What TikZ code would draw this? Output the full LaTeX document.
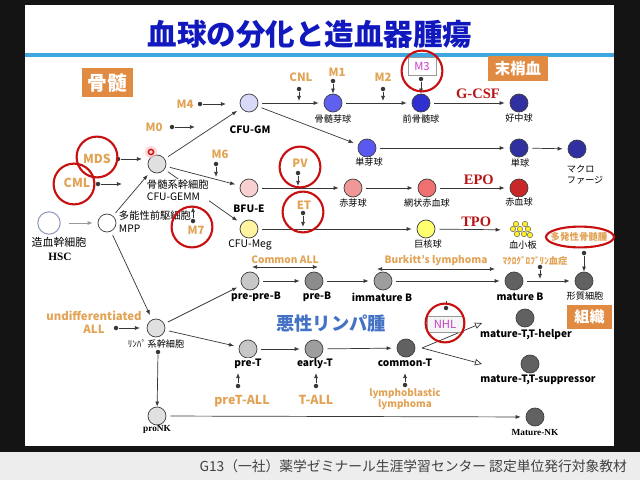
\documentclass[tikz,border=0pt]{standalone}
\usepackage{fontspec}
\setmainfont{Noto Sans CJK JP}
\newfontfamily\timesfont{Liberation Serif}
\usetikzlibrary{arrows.meta, shapes.geometric}
\definecolor{titleblue}{RGB}{16,24,190}
\definecolor{rulecol}{RGB}{64,166,222}
\definecolor{mutor}{RGB}{226,163,85}
\definecolor{areaor}{RGB}{224,138,66}
\definecolor{ringred}{RGB}{200,16,16}
\definecolor{hormred}{RGB}{185,20,20}
\definecolor{boxmag}{RGB}{200,60,200}
\definecolor{lymblue}{RGB}{68,114,196}
\definecolor{linecol}{RGB}{55,55,55}
\definecolor{hscline}{RGB}{140,150,190}
\definecolor{gmcol}{RGB}{216,216,248}
\definecolor{bmbcol}{RGB}{96,96,240}
\definecolor{pmccol}{RGB}{48,48,208}
\definecolor{mblcol}{RGB}{88,88,240}
\definecolor{navycol}{RGB}{48,48,160}
\definecolor{bfucol}{RGB}{248,208,208}
\definecolor{eblcol}{RGB}{240,152,152}
\definecolor{retcol}{RGB}{240,112,112}
\definecolor{rbccol}{RGB}{200,40,40}
\definecolor{megcol}{RGB}{255,245,160}
\definecolor{mgkcol}{RGB}{255,255,112}
\definecolor{pltcol}{RGB}{255,240,40}
\tikzset{
  cellC/.style  = {circle, draw=black!75, line width=0.5pt, minimum size=0.45cm, inner sep=0pt},
  labJ/.style   = {fill=white, inner sep=0.5pt, font=\fontsize{6.5}{7.6}\selectfont},
  labE/.style   = {fill=white, inner sep=0.5pt, font=\fontsize{7.2}{8.4}\selectfont\bfseries},
  labS/.style   = {inner sep=0.5pt, font=\timesfont\fontsize{6.6}{7.6}\selectfont\bfseries},
  mutT/.style   = {text=mutor, inner sep=0.5pt, font=\fontsize{8.1}{9.4}\selectfont\bfseries},
  hormT/.style  = {text=hormred, inner sep=0.5pt, font=\timesfont\fontsize{10.3}{12}\selectfont\bfseries},
  ringR/.style  = {circle, draw=ringred, line width=1.5pt, minimum size=1.02cm, inner sep=0pt},
  areaB/.style  = {fill=areaor, text=white, inner sep=0pt},
  tagbox/.style = {draw=black!40, inner sep=0pt, text=boxmag, font=\fontsize{8}{9}\selectfont},
  mdot/.style   = {circle, fill=linecol, minimum size=3.2pt, inner sep=0pt},
  arrow/.style  = {draw=linecol, line width=0.5pt, -{Latex[length=3.6pt,width=2.8pt]},
                   shorten <=2.8pt, shorten >=3.5pt},
  parrow/.style = {draw=linecol, line width=0.5pt, -{Latex[length=3.6pt,width=2.8pt]}},
  darrow/.style = {draw=linecol, line width=0.5pt,
                   {Latex[length=3.6pt,width=2.8pt]}-{Latex[length=3.6pt,width=2.8pt]}},
  oarrow/.style = {draw=linecol, line width=0.5pt, -{Triangle[open,length=5pt,width=4.5pt]}},
}
\begin{document}
\begin{tikzpicture}[x=0.025cm, y=-0.025cm]
  \useasboundingbox (0,0) rectangle (640,480);

  %% Slide frame
  \fill[black!92] (0,0) rectangle (640,480);
  \fill[white] (25,5) rectangle (614,446);
  \fill[black!7] (0,452) rectangle (640,480);
  \node[text=titleblue, font=\fontsize{21}{24}\selectfont\bfseries] (title) at (310,34) {血球の分化と造血器腫瘍};
  \draw[rulecol, line width=3pt] (25,55) -- (614,55);
  \node[anchor=east, text=black!75, font=\fontsize{9.8}{12}\selectfont] (footer) at (632,466)
        {G13（一社）薬学ゼミナール生涯学習センター 認定単位発行対象教材};

  %% Area tags
  \node[areaB, minimum width=1.275cm, minimum height=0.725cm, font=\fontsize{14}{16}\selectfont\bfseries] (bm)   at (107.5,82.5) {骨髄};
  \node[areaB, minimum width=1.5cm,   minimum height=0.625cm, font=\fontsize{11}{13}\selectfont\bfseries] (pb)   at (518,68.5)   {末梢血};
  \node[areaB, minimum width=1.125cm, minimum height=0.6cm,   font=\fontsize{10.7}{12}\selectfont\bfseries] (tis) at (589.5,317)  {組織};
  \node[text=lymblue, font=\fontsize{13}{15}\selectfont\bfseries] (mlym) at (331,324) {悪性リンパ腫};

  %% Cells
  \node[cellC, draw=hscline, line width=0.7pt, minimum size=0.56cm, fill=white] (hsc) at (49,223) {};
  \node[cellC, fill=white]    (mpp)    at (107,223) {};
  \node[cellC, fill=black!12] (gemm)   at (157,164) {};
  \node[cellC, fill=gmcol]    (gm)     at (249,103) {};
  \node[cellC, fill=bmbcol]   (bmb)    at (333,103) {};
  \node[cellC, fill=pmccol]   (pmc)    at (421,103) {};
  \node[cellC, fill=navycol]  (neu)    at (519,103) {};
  \node[cellC, fill=mblcol]   (mbl)    at (367,148) {};
  \node[cellC, fill=navycol]  (mono)   at (519,148) {};
  \node[cellC, fill=navycol]  (mac)    at (577,149) {};
  \node[cellC, fill=bfucol]   (bfue)   at (249,188) {};
  \node[cellC, fill=eblcol]   (ebl)    at (353,188) {};
  \node[cellC, fill=retcol]   (ret)    at (427,188) {};
  \node[cellC, fill=rbccol]   (rbc)    at (519,188) {};
  \node[cellC, fill=megcol]   (meg)    at (249,229) {};
  \node[cellC, fill=mgkcol]   (mgk)    at (426,229) {};
  \node[minimum size=0.8cm, inner sep=0pt] (plt) at (522,230) {};
  \foreach \dx/\dy in {-6/-6, 3/-6, -9/-1, -2/-1, 6/-1, -5/4, 2/4, 8/5}
    \draw[black!70, fill=pltcol, line width=0.3pt] ([shift={(\dx,\dy)}]plt.center) circle (0.068cm);
  \node[cellC, fill=black!12] (lsc)    at (156,328) {};
  \node[cellC, fill=black!22] (ppb)    at (250,281) {};
  \node[cellC, fill=black!45] (preb)   at (314,281) {};
  \node[cellC, fill=black!38] (immb)   at (383,281) {};
  \node[cellC, fill=black!62] (matb)   at (514,281) {};
  \node[cellC, fill=black!62] (pc)     at (584,281) {};
  \node[cellC, fill=black!22] (pret)   at (248,349) {};
  \node[cellC, fill=black!38] (earlyt) at (314,349) {};
  \node[cellC, fill=black!62] (commt)  at (406,348) {};
  \node[cellC, fill=black!62] (th)     at (525,318) {};
  \node[cellC, fill=black!62] (ts)     at (530,364) {};
  \node[cellC, fill=black!12] (pronk)  at (157,416) {};
  \node[cellC, fill=black!62] (mnk)    at (535,417) {};

  %% Lineage arrows
  \draw[arrow, draw=black!40, shorten <=6pt] (hsc) -- (mpp);
  \draw[arrow] (mpp)  -- (gemm);
  \draw[arrow] (mpp)  -- (lsc);
  \draw[arrow] (gemm) -- (gm);
  \draw[arrow] (gemm) -- (bfue);
  \draw[arrow] (gemm) -- (meg);
  \draw[arrow] (gm)   -- (bmb);
  \draw[arrow] (bmb)  -- (pmc);
  \draw[arrow] (pmc)  -- node[hormT, above=2.5pt, pos=0.6] (gcsf) {G-CSF} (neu);
  \draw[arrow] (gm)   -- (mbl);
  \draw[arrow] (mbl)  -- (mono);
  \draw[arrow] (mono) -- (mac);
  \draw[arrow] (bfue) -- (ebl);
  \draw[arrow] (ebl)  -- (ret);
  \draw[arrow] (ret)  -- node[hormT, above=1.5pt, pos=0.58] (epo) {EPO} (rbc);
  \draw[arrow] (meg)  -- (mgk);
  \draw[arrow] (mgk)  -- node[hormT, above=1.5pt, pos=0.58] (tpo) {TPO} (plt);
  \draw[arrow] (lsc)  -- (ppb);
  \draw[arrow] (lsc)  -- (pret);
  \draw[arrow] (ppb)  -- (preb);
  \draw[arrow] (preb) -- (immb);
  \draw[arrow] (immb) -- (matb);
  \draw[arrow] (matb) -- (pc);
  \draw[arrow] (pret) -- (earlyt);
  \draw[arrow] (earlyt) -- (commt);
  \draw[arrow] (pronk)  -- (mnk);
  \coordinate (ctfork) at (422,348);
  \coordinate (thend)  at (482,323);
  \coordinate (tsend)  at (482,364);
  \draw[oarrow] (ctfork) -- (thend);
  \draw[oarrow] (ctfork) -- (tsend);
  \coordinate (caL) at (252,267);
  \coordinate (caR) at (318,267);
  \draw[darrow] (caL) -- node[mutT, above=1.5pt, font=\fontsize{7.2}{8.4}\selectfont\bfseries] (cmall) {Common ALL} (caR);
  \coordinate (bkL) at (377,269);
  \coordinate (bkR) at (495,269);
  \draw[darrow] (bkL) -- node[mutT, above=1.5pt, font=\fontsize{7.2}{8.4}\selectfont\bfseries] (burk) {Burkitt’s lymphoma} (bkR);

  %% Cell labels
  \node[labJ, font=\fontsize{7.8}{9}\selectfont] (hscl) at (59,242) {造血幹細胞};
  \node[labS, font=\timesfont\fontsize{8}{9}\selectfont\bfseries] (hscn) at (60,257) {HSC};
  \node[labJ, anchor=west, align=left, font=\fontsize{7.3}{9.2}\selectfont] (mppl) at (118,222) {多能性前駆細胞\\MPP};
  \node[labJ, anchor=west, align=left, font=\fontsize{7.3}{8.6}\selectfont] (gemml) at (146,190) {骨髄系幹細胞\\CFU-GEMM};
  \node[labE] (gml)   at (250,130) {CFU-GM};
  \node[labJ] (bmbl)  at (333,119) {骨髄芽球};
  \node[labJ] (pmcl)  at (421,119) {前骨髄球};
  \node[labJ] (neul)  at (519,118) {好中球};
  \node[labJ] (mbll)  at (369,162) {単芽球};
  \node[labJ] (monol) at (520,163) {単球};
  \node[labJ, anchor=west, align=left] (macl) at (566,175) {マクロ\\ファージ};
  \node[labE] (bfuel) at (249,209) {BFU-E};
  \node[labJ] (ebll)  at (353,203) {赤芽球};
  \node[labJ] (retl)  at (427,203) {網状赤血球};
  \node[labJ] (rbcl)  at (519,202) {赤血球};
  \node[labJ, font=\fontsize{7.4}{8.6}\selectfont] (megl) at (250,245) {CFU-Meg};
  \node[labJ] (mgkl)  at (428,244) {巨核球};
  \node[labJ] (pltl)  at (523,245) {血小板};
  \node[labJ] (lscl)  at (156,344) {ﾘﾝﾊﾟ\,系幹細胞};
  \node[labE] (ppbl)  at (256,297) {pre-pre-B};
  \node[labE] (prebl) at (317,297) {pre-B};
  \node[labE] (immbl) at (382,297) {immature B};
  \node[labE] (matbl) at (520,297) {mature B};
  \node[labJ] (pcl)   at (585,296) {形質細胞};
  \node[labE] (pretl) at (248,364) {pre-T};
  \node[labE] (earlytl) at (315,364) {early-T};
  \node[labE] (commtl)  at (405,363) {common-T};
  \node[labE] (thl)   at (526,335) {mature-T,T-helper};
  \node[labE] (tsl)   at (538,380) {mature-T,T-suppressor};
  \node[labS] (pronkl) at (157,429) {proNK};
  \node[labS] (mnkl)   at (535,433) {Mature-NK};

  %% Disease labels
  \node[mutT] (m4)  at (185,104) {M4};
  \node[mutT] (m0)  at (154,127) {M0};
  \node[mutT] (cnl) at (301,77)  {CNL};
  \node[mutT] (m1)  at (337,72)  {M1};
  \node[mutT] (m2)  at (383,77)  {M2};
  \node[mutT] (m6)  at (220,154) {M6};
  \node[mutT, font=\fontsize{8.8}{10}\selectfont\bfseries] (mds) at (97,159) {MDS};
  \node[mutT, font=\fontsize{8.8}{10}\selectfont\bfseries] (cml) at (77,183) {CML};
  \node[mutT] (pv)  at (300,163) {PV};
  \node[mutT] (et)  at (304,205) {ET};
  \node[mutT] (m7)  at (196,230) {M7};
  \node[mutT, align=center, font=\fontsize{8.1}{9.2}\selectfont\bfseries] (uall) at (94,322) {undifferentiated\\ALL};
  \node[mutT, font=\fontsize{6.6}{7.6}\selectfont\bfseries] (mgl) at (535,261) {ﾏｸﾛｸﾞﾛﾌﾞﾘﾝ血症};
  \node[mutT, font=\fontsize{6.7}{7.6}\selectfont\bfseries] (mm)  at (579,237) {多発性骨髄腫};
  \node[mutT, font=\fontsize{8.8}{10}\selectfont\bfseries] (ptall) at (242,401) {preT-ALL};
  \node[mutT, font=\fontsize{8.8}{10}\selectfont\bfseries] (tall)  at (316,400) {T-ALL};
  \node[mutT, align=center, font=\fontsize{7}{7.2}\selectfont\bfseries] (lbl) at (405,399) {lymphoblastic\\lymphoma};
  \node[tagbox, fill=white,    minimum width=0.7cm, minimum height=0.45cm] (m3)  at (422,66)  {M3};
  \node[tagbox, fill=black!4,  minimum width=0.9cm, minimum height=0.4cm]  (nhl) at (445,324) {NHL};

  %% Pins
  \node[mdot] (cnld) at (299,89)  {};  \coordinate (cnle) at (299,101);
  \node[mdot] (m1d)  at (333,81)  {};
  \node[mdot] (m2d)  at (383,89)  {};  \coordinate (m2e)  at (383,101);
  \node[mdot] (m3d)  at (421,79)  {};
  \node[mdot] (m4d)  at (200,104) {};  \coordinate (m4e)  at (226,104);
  \node[mdot] (m0d)  at (172,127) {};  \coordinate (m0e)  at (195,127);
  \node[mdot] (mdsd) at (118,159) {};  \coordinate (mdse) at (142,159);
  \node[mdot] (cmld) at (98,184)  {};  \coordinate (cmle) at (122,184);
  \node[mdot] (m6d)  at (216,164) {};  \coordinate (m6e)  at (216,177);
  \node[mdot] (pvd)  at (298,173) {};  \coordinate (pve)  at (298,186);
  \node[mdot] (etd)  at (303,213) {};  \coordinate (ete)  at (303,227);
  \node[mdot] (m7d)  at (193,221) {};  \coordinate (m7e)  at (193,207);
  \node[mdot] (uald) at (116,328) {};  \coordinate (uale) at (140,328);
  \node[mdot] (mmd)  at (584,253) {};
  \node[mdot] (mgd)  at (540,267) {};  \coordinate (mge)  at (540,279);
  \node[mdot] (nhld) at (446,308) {};  \coordinate (nhle) at (446,301);
  \node[mdot] (ptad) at (238,386) {};  \coordinate (ptae) at (238,373);
  \node[mdot] (tad)  at (316,386) {};  \coordinate (tae)  at (316,373);
  \node[mdot] (lbld) at (405,385) {};  \coordinate (lble) at (405,373);
  \node[mdot] (nkd)  at (158,352) {};

  \draw[parrow] (cnld) -- (cnle);
  \draw[parrow] (m1d)  -- (bmb);
  \draw[parrow] (m2d)  -- (m2e);
  \draw[parrow] (m3d)  -- (pmc);
  \draw[parrow] (m4d)  -- (m4e);
  \draw[parrow] (m0d)  -- (m0e);
  \draw[parrow] (mdsd) -- (mdse);
  \draw[parrow] (cmld) -- (cmle);
  \draw[parrow] (m6d)  -- (m6e);
  \draw[parrow] (pvd)  -- (pve);
  \draw[parrow] (etd)  -- (ete);
  \draw[parrow] (m7d)  -- (m7e);
  \draw[parrow] (uald) -- (uale);
  \draw[parrow] (mmd)  -- (pc);
  \draw[parrow] (mgd)  -- (mge);
  \draw[linecol, line width=0.5pt] (nhld) -- (nhle);
  \draw[parrow] (ptad) -- (ptae);
  \draw[parrow] (tad)  -- (tae);
  \draw[parrow] (lbld) -- (lble);
  \draw[parrow] (nkd)  -- (pronk);

  %% Red marks
  \node[ringR] (mdsr) at (97,157)  {};
  \node[ringR] (cmlr) at (74,184)  {};
  \node[ringR] (pvr)  at (300,167) {};
  \node[ringR] (etr)  at (303,212) {};
  \node[ringR] (m7r)  at (192,227) {};
  \node[ringR] (m3r)  at (422,71)  {};
  \node[ringR, minimum size=0.97cm] (nhlr) at (445,323) {};
  \node[ellipse, draw=ringred, line width=1.5pt, minimum width=1.7cm, minimum height=0.52cm] (mmr) at (580,237) {};
  \fill[red!22, opacity=0.7] (151,152) circle (0.15cm);
  \draw[ringred, line width=1pt] (151,152) circle (0.065cm);

\end{tikzpicture}
\end{document}
